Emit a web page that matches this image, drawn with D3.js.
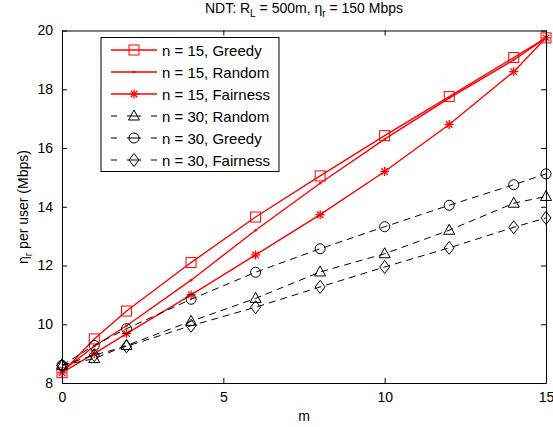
<!DOCTYPE html>
<html>
<head>
<meta charset="utf-8">
<script src="https://cdn.jsdelivr.net/npm/d3@7"></script>
<style>
  body { margin: 0; background: #fff; }
  svg { display: block; font-family: "Liberation Sans", Arial, sans-serif; }
</style>
</head>
<body>
<svg id="chart" width="553" height="427"></svg>
<script>
// values
const mValues = [0, 1, 2, 4, 6, 8, 10, 12, 14, 15];
const greedy15 = [8.35, 9.5, 10.45, 12.1, 13.65, 15.05, 16.42, 17.75, 19.08, 19.75];
const random15 = [8.4, 9.25, 9.95, 11.5, 13.2, 14.8, 16.3, 17.7, 19.0, 19.75];
const fair15 = [8.35, 9.0, 9.68, 11.0, 12.36, 13.73, 15.2, 16.8, 18.6, 19.75];
const random30 = [8.6, 8.83, 9.28, 10.1, 10.88, 11.78, 12.4, 13.2, 14.12, 14.35];
const greedy30 = [8.6, 9.28, 9.85, 10.85, 11.77, 12.57, 13.32, 14.05, 14.75, 15.12];
const fair30 = [8.6, 8.95, 9.25, 9.95, 10.58, 11.27, 11.95, 12.6, 13.3, 13.62];
const seriesNames = ["n = 15, Greedy", "n = 15, Random", "n = 15, Fairness",
                     "n = 30; Random", "n = 30, Greedy", "n = 30, Fairness"];
const xTicks = [0, 5, 10, 15];
const yTicks = [8, 10, 12, 14, 16, 18, 20];

const series = [
  { name: seriesNames[0], values: greedy15, color: "#ff0000", dash: null, marker: "square" },
  { name: seriesNames[1], values: random15, color: "#ff0000", dash: null, marker: "dot" },
  { name: seriesNames[2], values: fair15, color: "#ff0000", dash: null, marker: "star" },
  { name: seriesNames[3], values: random30, color: "#000000", dash: "7,5", marker: "triangle" },
  { name: seriesNames[4], values: greedy30, color: "#000000", dash: "7,5", marker: "circle" },
  { name: seriesNames[5], values: fair30, color: "#000000", dash: "7,5", marker: "diamond" }
];

const svg = d3.select("#chart");
const plotL = 62, plotR = 546, plotT = 30.5, plotB = 383;
const fs = 14;

const x = d3.scaleLinear().domain([0, 15]).range([plotL, plotR]);
const y = d3.scaleLinear().domain([8, 20]).range([plotB, plotT]);

// marker drawing
function drawMarker(g, type, cx, cy, color) {
  const m = g.append("g").attr("transform", `translate(${cx},${cy})`)
    .attr("fill", "none").attr("stroke", color).attr("stroke-width", 1);
  if (type === "square") {
    m.append("rect").attr("x", -5).attr("y", -5).attr("width", 10).attr("height", 10);
  } else if (type === "dot") {
    m.append("circle").attr("r", 1.3).attr("fill", color).attr("stroke", "none");
  } else if (type === "star") {
    const r = 4.5, d = r * 0.72;
    m.attr("stroke-width", 1.3);
    m.append("line").attr("x1", -r).attr("x2", r);
    m.append("line").attr("y1", -r).attr("y2", r);
    m.append("line").attr("x1", -d).attr("y1", -d).attr("x2", d).attr("y2", d);
    m.append("line").attr("x1", -d).attr("y1", d).attr("x2", d).attr("y2", -d);
  } else if (type === "triangle") {
    m.append("path").attr("d", "M0,-6L5.5,4L-5.5,4Z");
  } else if (type === "circle") {
    m.append("circle").attr("r", 5);
  } else if (type === "diamond") {
    m.append("path").attr("d", "M0,-6.5L5,0L0,6.5L-5,0Z");
  }
}

// series
const line = d3.line().x((d, i) => x(mValues[i])).y(d => y(d));
series.forEach(s => {
  const g = svg.append("g");
  g.append("path").datum(s.values).attr("d", line)
    .attr("fill", "none").attr("stroke", s.color)
    .attr("stroke-width", s.color === "#ff0000" ? 1.4 : 1)
    .attr("stroke-dasharray", s.dash);
  s.values.forEach((v, i) => drawMarker(g, s.marker, x(mValues[i]), y(v), s.color));
});

// axes (ticks inside, box all around)
const axisStyle = g => {
  g.selectAll("path.domain").attr("stroke", "#000").attr("stroke-width", 1);
  g.selectAll(".tick line").attr("stroke", "#000");
  g.selectAll("text").attr("font-size", fs).attr("fill", "#000");
  g.attr("font-family", null).attr("font-size", null);
};
svg.append("g").attr("transform", `translate(0,${plotB})`)
  .call(d3.axisBottom(x).tickValues(xTicks).tickSizeInner(-5).tickSizeOuter(0).tickPadding(9))
  .call(axisStyle);
svg.append("g").attr("transform", `translate(0,${plotT})`)
  .call(d3.axisTop(x).tickValues(xTicks).tickSizeInner(-5).tickSizeOuter(0).tickFormat(""))
  .call(axisStyle);
svg.append("g").attr("transform", `translate(${plotL},0)`)
  .call(d3.axisLeft(y).tickValues(yTicks).tickSizeInner(-5).tickSizeOuter(0).tickPadding(9))
  .call(axisStyle);
svg.append("g").attr("transform", `translate(${plotR},0)`)
  .call(d3.axisRight(y).tickValues(yTicks).tickSizeInner(-5).tickSizeOuter(0).tickFormat(""))
  .call(axisStyle);

// legend
const lg = svg.append("g");
lg.append("rect").attr("x", 101).attr("y", 37.5).attr("width", 178).attr("height", 134)
  .attr("fill", "#fff").attr("stroke", "#000").attr("stroke-width", 1);
series.forEach((s, i) => {
  const ly = 50 + i * 22;
  lg.append("line").attr("x1", 111).attr("x2", 157).attr("y1", ly).attr("y2", ly)
    .attr("stroke", s.color).attr("stroke-width", s.color === "#ff0000" ? 1.4 : 1)
    .attr("stroke-dasharray", s.dash ? "6,10,14,10,6" : null);
  drawMarker(lg, s.marker, 134, ly, s.color);
  lg.append("text").attr("x", 162).attr("y", ly + 5.5).attr("font-size", 15).text(s.name);
});

// title
const title = svg.append("text").attr("x", 304).attr("y", 13).attr("text-anchor", "middle")
  .attr("font-size", fs);
title.append("tspan").text("NDT: R");
title.append("tspan").attr("dy", 4).attr("font-size", 10).text("L");
title.append("tspan").attr("dy", -4).text(" = 500m, η");
title.append("tspan").attr("dy", 4).attr("font-size", 10).text("r");
title.append("tspan").attr("dy", -4).text(" = 150 Mbps");

// axis labels
svg.append("text").attr("x", 304).attr("y", 421).attr("text-anchor", "middle")
  .attr("font-size", fs).text("m");
const yl = svg.append("text").attr("transform", "translate(28,207) rotate(-90)")
  .attr("text-anchor", "middle").attr("font-size", fs);
yl.append("tspan").text("η");
yl.append("tspan").attr("dy", 4).attr("font-size", 10).text("r");
yl.append("tspan").attr("dy", -4).text(" per user (Mbps)");
</script>
</body>
</html>
